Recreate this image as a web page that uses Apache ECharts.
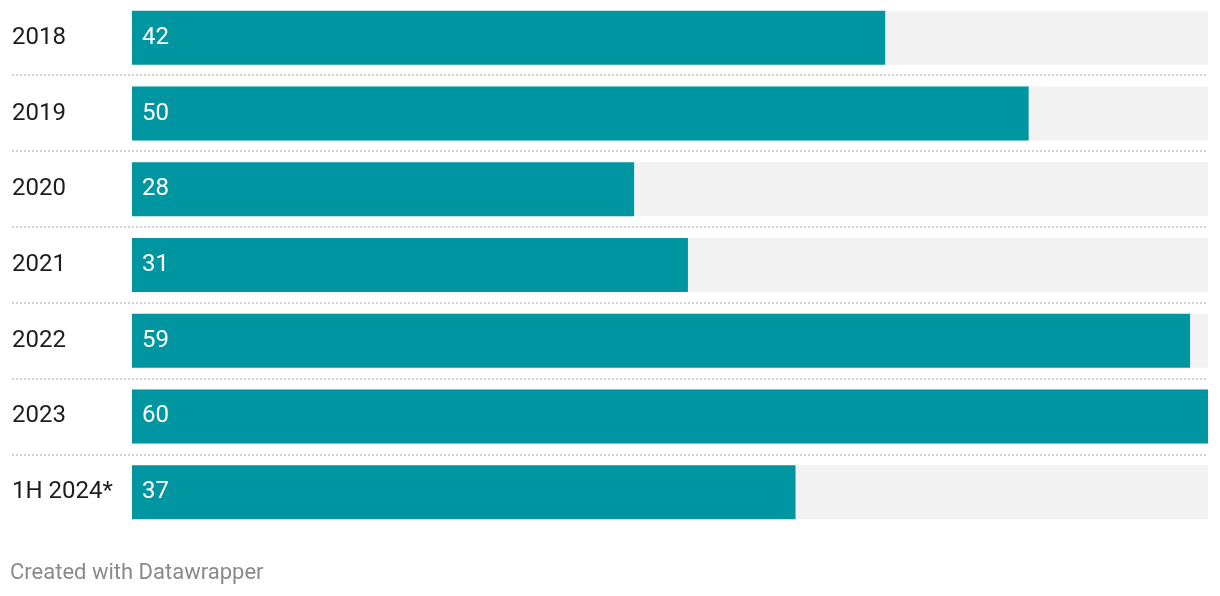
<!DOCTYPE html>
<html>
<head>
<meta charset="utf-8">
<script src="https://cdn.jsdelivr.net/npm/echarts@6/dist/echarts.min.js"></script>
<style>html,body{margin:0;padding:0;background:#fff}#c{width:1220px;height:596px}</style>
</head>
<body>
<div id="c"></div>
<script>
const categories = ['2018', '2019', '2020', '2021', '2022', '2023', '1H 2024*'];
const values = [42, 50, 28, 31, 59, 60, 37];
const axisMax = 60;

const chart = echarts.init(document.getElementById('c'), null, {renderer: 'canvas'});
chart.setOption({
  animation: false,
  backgroundColor: '#ffffff',
  textStyle: {fontFamily: 'Roboto'},
  title: {
    text: 'Created with Datawrapper',
    left: 5, top: 557,
    textStyle: {color: '#8a8a8a', fontSize: 22, fontWeight: 'normal', fontFamily: 'Roboto'}
  },
  grid: [
    {left: 132, right: 12, top: -2, height: 532},
    {left: 12, right: 12, top: 74.5, height: 380}
  ],
  xAxis: [
    {type: 'value', gridIndex: 0, min: 0, max: axisMax, show: false},
    {type: 'value', gridIndex: 1, min: 0, max: 1, show: false}
  ],
  yAxis: [
    {
      type: 'category', gridIndex: 0, data: categories, inverse: true,
      axisLine: {show: false}, axisTick: {show: false}, splitLine: {show: false},
      axisLabel: {align: 'left', margin: 120, color: '#1d1d1d', fontSize: 24, fontFamily: 'Roboto'}
    },
    {
      type: 'value', gridIndex: 1, min: 1, max: 6, interval: 1, inverse: true,
      axisLine: {show: false}, axisTick: {show: false}, axisLabel: {show: false},
      splitLine: {show: true, lineStyle: {color: '#d2d2d2', width: 2, type: [2, 2]}}
    }
  ],
  series: [{
    type: 'bar',
    xAxisIndex: 0, yAxisIndex: 0,
    data: values,
    barWidth: 54,
    itemStyle: {color: '#0096a1'},
    showBackground: true,
    backgroundStyle: {color: '#f2f2f2'},
    label: {
      show: true, position: 'insideLeft', distance: 10,
      color: '#ffffff', fontSize: 24, fontFamily: 'Roboto'
    }
  }]
});
</script>
</body>
</html>
